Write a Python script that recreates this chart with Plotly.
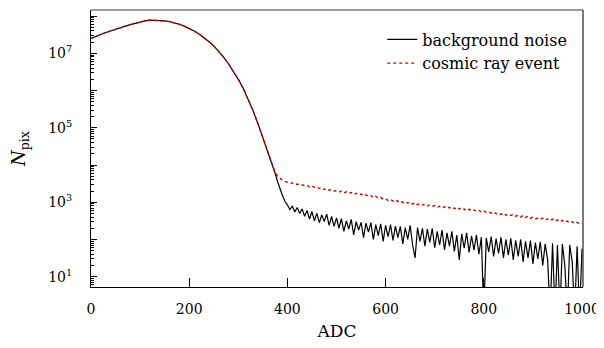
import plotly.graph_objects as go

# ---------------- data ----------------
# shared smooth part (both spectra coincide up to ~370 ADC)
adc_shared = [0, 10, 20, 30, 40, 50, 60, 70, 80, 90, 100, 110, 120, 130, 140, 150,
              160, 170, 180, 190, 200, 210, 220, 230, 240, 250, 260, 270, 280, 290,
              300, 310, 320, 330, 340, 350, 360, 370]
npix_shared = [2.51e7, 2.88e7, 3.24e7, 3.63e7, 3.98e7, 4.47e7, 4.90e7, 5.37e7, 5.89e7,
               6.46e7, 6.92e7, 7.41e7, 7.76e7, 7.76e7, 7.59e7, 7.41e7, 7.08e7, 6.61e7,
               6.03e7, 5.37e7, 4.68e7, 3.98e7, 3.31e7, 2.69e7, 2.09e7, 1.58e7, 1.15e7,
               7.94e6, 5.25e6, 3.31e6, 2.00e6, 1.15e6, 6.03e5, 2.88e5, 1.29e5, 5.50e4,
               2.29e4, 9.55e3]

# tail part, 375 .. 1000 ADC in steps of 5
adc_tail = [375, 380, 385, 390, 395, 400, 405, 410, 415, 420, 425, 430, 435, 440, 445,
            450, 455, 460, 465, 470, 475, 480, 485, 490, 495, 500, 505, 510, 515, 520,
            525, 530, 535, 540, 545, 550, 555, 560, 565, 570, 575, 580, 585, 590, 595,
            600, 605, 610, 615, 620, 625, 630, 635, 640, 645, 650, 655, 660, 665, 670,
            675, 680, 685, 690, 695, 700, 705, 710, 715, 720, 725, 730, 735, 740, 745,
            750, 755, 760, 765, 770, 775, 780, 785, 790, 795, 800, 805, 810, 815, 820,
            825, 830, 835, 840, 845, 850, 855, 860, 865, 870, 875, 880, 885, 890, 895,
            900, 905, 910, 915, 920, 925, 930, 935, 940, 945, 950, 955, 960, 965, 970,
            975, 980, 985, 990, 995, 1000]

background_tail = [6026, 3548, 2239, 1514, 1047,
                   851, 631, 794, 550, 724, 501, 661, 417, 603, 355,
                   562, 316, 501, 282, 457, 302, 479, 240, 417, 224,
                   380, 200, 363, 166, 316, 191, 347, 132, 302, 178,
                   288, 112, 275, 158, 282, 100, 251, 126, 263, 89,
                   240, 120, 251, 95, 229, 112, 224, 76, 209, 100,
                   240, 71, 32, 209, 89, 200, 66, 191, 83, 200,
                   60, 166, 71, 178, 52, 151, 66, 166, 48, 132,
                   28, 141, 58, 151, 45, 126, 52, 132, 40, 115,
                   1, 110, 46, 120, 35, 105, 42, 115, 32, 100,
                   38, 107, 28, 95, 35, 100, 25, 89, 32, 93,
                   22, 83, 30, 87, 20, 76, 28, 1, 79, 1,
                   71, 1, 76, 20, 1, 72, 25, 1, 66, 1, 56]

cosmic_tail = [6310, 5012, 4365, 3890, 3630, 3390, 3240, 3310, 2950, 3090, 2880, 2950,
               2760, 2880, 2570, 2750, 2510, 2570, 2340, 2450, 2190, 2340, 2090, 2190,
               2000, 2040, 1860, 2000, 1780, 1910, 1740, 1820, 1620, 1740, 1580, 1660,
               1480, 1580, 1440, 1510, 1320, 1440, 1290, 1350, 1200, 1230, 1120, 1200,
               1070, 1150, 1050, 1120, 980, 1050, 950, 1000, 890, 970, 860, 920, 840,
               880, 790, 850, 770, 810, 730, 780, 700, 750, 680, 730, 650, 700, 630,
               690, 610, 660, 590, 650, 580, 620, 570, 600, 550, 590, 530, 550, 510,
               550, 490, 520, 470, 510, 450, 480, 440, 470, 420, 450, 400, 440, 390,
               420, 370, 400, 360, 370, 345, 375, 330, 355, 320, 350, 310, 335, 300,
               325, 290, 310, 280, 300, 270, 290, 260, 275, 255, 290]

adc = adc_shared + adc_tail
background = npix_shared + background_tail
cosmic = npix_shared + cosmic_tail

series_names = ["background noise", "cosmic ray event"]

xtick_vals = [0, 200, 400, 600, 800, 1000]
xtick_text = ["0", "200", "400", "600", "800", "1000"]
ytick_vals = [1e1, 1e2, 1e3, 1e4, 1e5, 1e6, 1e7, 1e8]
ytick_text = ["10<sup>1</sup>", "", "10<sup>3</sup>", "", "10<sup>5</sup>", "",
              "10<sup>7</sup>", ""]
yminor_vals = [m * 10 ** e for e in range(0, 9) for m in range(2, 10)]

FONT = "DejaVu Serif"

fig = go.Figure()
fig.add_trace(go.Scatter(x=adc, y=background, mode="lines", name=series_names[0],
                         line=dict(color="#000000", width=1.2)))
fig.add_trace(go.Scatter(x=adc, y=cosmic, mode="lines", name=series_names[1],
                         line=dict(color="#cc0000", width=1.4, dash="dot")))

# the page body adds an 8 px offset, so the figure is 8 px smaller on each side
fig.update_layout(
    width=596, height=340,
    margin=dict(l=83, r=21, t=2, b=61, autoexpand=False),
    paper_bgcolor="white", plot_bgcolor="white",
    font=dict(family=FONT, color="black", size=15),
    showlegend=True,
    legend=dict(x=0.592, y=0.955, xanchor="left", yanchor="top",
                bgcolor="rgba(0,0,0,0)", font=dict(family=FONT, size=16),
                tracegroupgap=0, itemwidth=30),
    xaxis=dict(range=[0, 1002], tickmode="array", tickvals=xtick_vals,
               ticktext=xtick_text, ticks="inside", ticklen=9, tickwidth=1,
               tickcolor="black", showline=True, linecolor="black", linewidth=1,
               showgrid=False, zeroline=False, ticklabelstandoff=9, automargin=False,
               tickfont=dict(family=FONT, size=14),
               title=dict(text="ADC", font=dict(family=FONT, size=17), standoff=9)),
    yaxis=dict(type="log", range=[0.723, 8.164], tickmode="array",
               tickvals=ytick_vals, ticktext=ytick_text, ticks="inside", ticklen=6,
               tickwidth=1, tickcolor="black", showline=True, linecolor="black",
               linewidth=1, showgrid=False, zeroline=False, ticklabelstandoff=15,
               automargin=False, tickfont=dict(family=FONT, size=14),
               minor=dict(tickmode="array", tickvals=yminor_vals, ticks="inside",
                          ticklen=3, tickcolor="black", showgrid=False),
               title=dict(text="<i>N</i><sub>pix</sub>", font=dict(family=FONT, size=18),
                          standoff=17)),
)

# top and right frame lines (gray in the reference)
fig.add_shape(type="line", xref="paper", yref="paper", x0=0, x1=1, y0=1, y1=1,
              line=dict(color="#7a7a7a", width=1.3))
fig.add_shape(type="line", xref="paper", yref="paper", x0=1, x1=1, y0=0, y1=1,
              line=dict(color="#333333", width=1.3))

fig.write_html("out.html")
